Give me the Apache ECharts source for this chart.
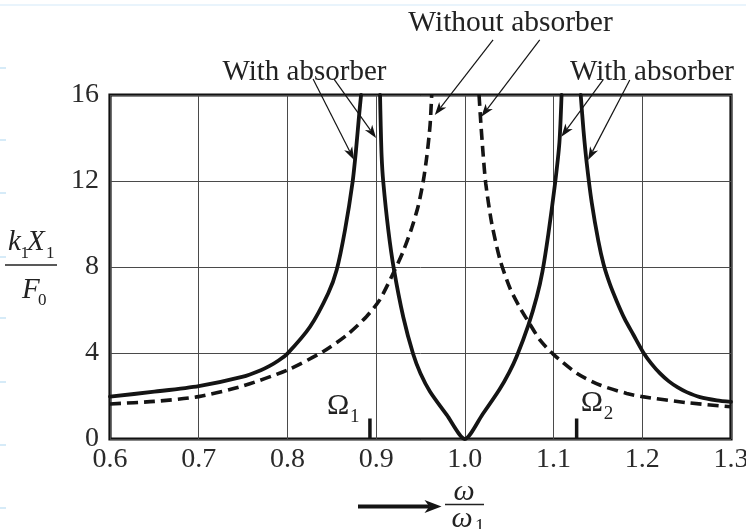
<!DOCTYPE html>
<html><head><meta charset="utf-8">
<script src="https://cdn.jsdelivr.net/npm/echarts@6/dist/echarts.min.js"></script>
<style>html,body{margin:0;padding:0;background:#fff}#c{width:746px;height:529px}</style>
</head><body><div id="c"></div>
<script>
// ---- data ----
const xMin = 0.6, xMax = 1.3, xStep = 0.1;
const yMin = 0, yMax = 16, yStep = 4;

// With absorber – left resonance branch
const withLeftX = [0.6, 0.65, 0.7, 0.75, 0.77, 0.78, 0.79, 0.8, 0.8255, 0.846, 0.8555, 0.8649, 0.8735, 0.8773, 0.881, 0.883];
const withLeftY = [1.97, 2.2, 2.46, 2.9, 3.2, 3.4, 3.65, 3.97, 5.22, 6.78, 7.86, 9.72, 11.97, 13.44, 15.15, 16];
// With absorber – middle V branch (zero at ω/ω1 = 1)
const withMidX = [0.9044, 0.9051, 0.9062, 0.908, 0.9137, 0.92, 0.9307, 0.9418, 0.95, 0.9608, 0.9796, 1.0, 1.02, 1.039, 1.05, 1.0585, 1.0716, 1.081, 1.0875, 1.094, 1.1017, 1.1066, 1.109];
const withMidY = [16, 14.68, 13.13, 11.97, 9.72, 7.9, 5.65, 3.94, 3.05, 2.2, 1.12, 0, 1.15, 2.3, 3.1, 3.85, 5.3, 6.6, 7.8, 9.5, 11.9, 13.8, 16];
// With absorber – right branch
const withRightX = [1.1306, 1.1337, 1.1374, 1.143, 1.1505, 1.1565, 1.1635, 1.1713, 1.18, 1.19, 1.2015, 1.21, 1.22, 1.23, 1.24, 1.25, 1.265, 1.284, 1.3];
const withRightY = [16, 14.37, 12.82, 11.0, 9.2, 8.1, 7.2, 6.4, 5.6, 4.85, 4.0, 3.52, 3.05, 2.68, 2.4, 2.18, 1.95, 1.8, 1.73];
// Without absorber – left branch
const withoutLeftX = [0.6, 0.65, 0.7, 0.75, 0.8, 0.84, 0.867, 0.889, 0.904, 0.921, 0.9307, 0.94, 0.9475, 0.953, 0.957, 0.9608, 0.9626];
const withoutLeftY = [1.63, 1.75, 1.97, 2.47, 3.21, 4.06, 4.84, 5.69, 6.47, 7.86, 8.75, 9.8, 10.85, 11.97, 13.1, 14.6, 16];
// Without absorber – right branch
const withoutRightX = [1.016, 1.018, 1.0205, 1.0235, 1.0303, 1.0397, 1.051, 1.0622, 1.0716, 1.0848, 1.0998, 1.1261, 1.1522, 1.1825, 1.2, 1.25, 1.3];
const withoutRightY = [16, 14.7, 13.3, 11.9, 10.03, 8.33, 7.0, 6.1, 5.46, 4.6, 3.94, 3.06, 2.51, 2.12, 1.97, 1.69, 1.5];

// Ω markers
const omegaX = [0.893, 1.126];
const omegaH = [0.95, 0.95];
const omegaNames = ['1', '2'];

// Label texts
const labelWith = 'With absorber';
const labelWithout = 'Without absorber';
// arrows [tailX, tailY, tipX, tipY] in data units
const arrowsData = [
  [0.8289, 16.74, 0.8751, 12.98],
  [0.8525, 16.74, 0.8999, 14.0],
  [1.0318, 18.56, 0.9661, 15.07],
  [1.0844, 18.56, 1.0186, 14.99],
  [1.1558, 16.7, 1.1088, 14.06],
  [1.1859, 16.7, 1.1389, 12.98]
];

const zip = (a, b) => a.map((v, i) => [v, b[i]]);
const FONT = "'Liberation Serif','Times New Roman',serif";
const INK = '#141414';

const solid = (data) => ({type:'line', data, showSymbol:false, smooth:0.25, clip:true,
  lineStyle:{color:INK, width:3.8, join:'round', cap:'round'}, z:3});
const dashed = (data) => ({type:'line', data, showSymbol:false, smooth:0.25, clip:true,
  lineStyle:{color:INK, width:3.6, type:[11,6]}, z:3});

const series = [
  solid(zip(withLeftX, withLeftY)),
  solid(zip(withMidX, withMidY)),
  solid(zip(withRightX, withRightY)),
  dashed(zip(withoutLeftX, withoutLeftY)),
  dashed(zip(withoutRightX, withoutRightY))
];
omegaX.forEach((x, i) => series.push({type:'line', data:[[x,0],[x,omegaH[i]]], showSymbol:false,
  lineStyle:{color:INK, width:3.5}, z:4}));

const chart = echarts.init(document.getElementById('c'), null, {renderer:'canvas'});
chart.setOption({
  animation:false,
  backgroundColor:'#fff',
  grid:{left:110, right:15, top:95, bottom:90, show:true, borderColor:'#111', borderWidth:3.2,
        backgroundColor:'transparent', containLabel:false, outerBoundsMode:'none'},
  xAxis:{type:'value', min:xMin, max:xMax, interval:xStep,
    axisLine:{show:false}, axisTick:{show:false},
    splitLine:{show:true, lineStyle:{color:'#4a4a4a', width:1}},
    axisLabel:{formatter:v=>v.toFixed(1), fontFamily:FONT, fontSize:28, color:'#2a2a2a', margin:7}},
  yAxis:{type:'value', min:yMin, max:yMax, interval:yStep,
    axisLine:{show:false}, axisTick:{show:false},
    splitLine:{show:true, lineStyle:{color:'#4a4a4a', width:1}},
    axisLabel:{fontFamily:FONT, fontSize:28, color:'#2a2a2a', margin:11}},
  series
});

function arrow(p0, p1, lw, hl, hw) {
  const dx = p1[0]-p0[0], dy = p1[1]-p0[1], L = Math.hypot(dx, dy);
  const ux = dx/L, uy = dy/L, nx = -uy, ny = ux;
  const base = [p1[0]-ux*hl, p1[1]-uy*hl];
  const notch = [p1[0]-ux*hl*0.72, p1[1]-uy*hl*0.72];
  return [
    {type:'line', shape:{x1:p0[0], y1:p0[1], x2:notch[0], y2:notch[1]}, style:{stroke:INK, lineWidth:lw}, z:10},
    {type:'polygon', shape:{points:[p1, [base[0]+nx*hw, base[1]+ny*hw], notch, [base[0]-nx*hw, base[1]-ny*hw]]},
     style:{fill:INK}, z:10}
  ];
}
function txt(x, y, s, fs, opts) {
  return Object.assign({type:'text', x, y, z:10,
    style:Object.assign({text:s, fontFamily:FONT, fontSize:fs, fill:'#222', textAlign:'left', textVerticalAlign:'middle', align:'left', verticalAlign:'middle'}, opts||{})});
}

const g = [];
// faint page artefacts on the left edge and top
g.push({type:'line', shape:{x1:0, y1:5, x2:746, y2:5}, style:{stroke:'#e2f0fb', lineWidth:1.5}});
[68, 140, 193, 257, 318, 382, 445, 508].forEach(y =>
  g.push({type:'line', shape:{x1:0, y1:y, x2:6, y2:y}, style:{stroke:'#c9e4f6', lineWidth:1.5}}));

// labels
g.push(txt(304.5, 72, labelWith, 29, {textAlign:'center', align:'center'}));
g.push(txt(510.5, 23.5, labelWithout, 29.5, {textAlign:'center', align:'center'}));
g.push(txt(652, 72, labelWith, 29, {textAlign:'center', align:'center'}));
arrowsData.forEach(a => {
  const p0 = chart.convertToPixel({gridIndex:0}, [a[0], a[1]]);
  const p1 = chart.convertToPixel({gridIndex:0}, [a[2], a[3]]);
  g.push(...arrow(p0, p1, 1.2, 13, 4.5));
});

// Ω labels
omegaX.forEach((x, i) => {
  const p = chart.convertToPixel({gridIndex:0}, [x, 0]);
  const left = i === 0 ? p[0]-43 : p[0]+4;
  g.push(txt(left, 406 - (i===0?0:3), 'Ω', 30));
  g.push(txt(left+23, 417 - (i===0?0:3), omegaNames[i], 19));
});

// y-axis name: k1X1 / F0
const ITAL = {fontStyle:'italic'};
g.push(txt(8, 242, 'k', 29, ITAL));
g.push(txt(20.5, 254, '1', 17));
g.push(txt(27, 242, 'X', 29, ITAL));
g.push(txt(46, 254, '1', 17));
g.push({type:'line', shape:{x1:5, y1:265, x2:57, y2:265}, style:{stroke:'#222', lineWidth:1.3}});
g.push(txt(22, 290, 'F', 29, ITAL));
g.push(txt(38, 301, '0', 17));

// x-axis name: arrow then ω/ω1
g.push(...arrow([358, 506.5], [441.5, 506.5], 4, 17, 6.5));
g.push({type:'line', shape:{x1:445, y1:504.5, x2:484, y2:504.5}, style:{stroke:'#222', lineWidth:1.3}});
g.push(txt(464, 492, 'ω', 30, {fontStyle:'italic', textAlign:'center', align:'center'}));
g.push(txt(462, 519, 'ω', 30, {fontStyle:'italic', textAlign:'center', align:'center'}));
g.push(txt(475, 527, '1', 19));

chart.setOption({graphic:{elements:g}});
</script></body></html>
